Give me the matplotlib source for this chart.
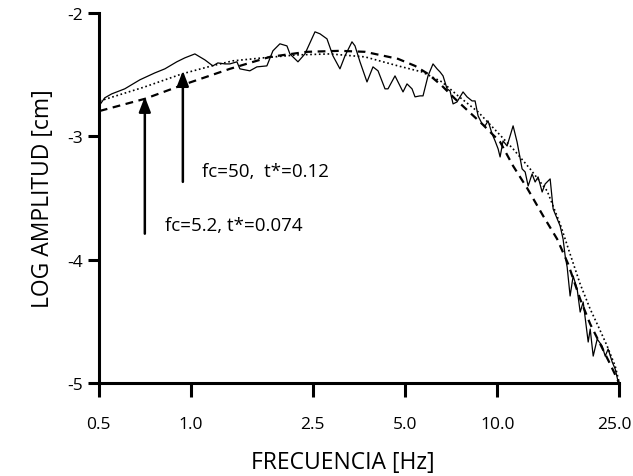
import numpy as np
import matplotlib
matplotlib.use("Agg")
import matplotlib.pyplot as plt
from matplotlib.transforms import ScaledTranslation
plt.rcParams["font.family"] = ["Open Sans", "DejaVu Sans"]
plt.rcParams["axes.unicode_minus"] = False

obs_f = [0.504, 0.523, 0.551, 0.608, 0.681, 0.762, 0.822, 0.899, 0.955, 1.030,
         1.110, 1.179, 1.224, 1.291, 1.340, 1.413, 1.445, 1.557, 1.642, 1.770,
         1.852, 1.952, 2.058, 2.105, 2.236, 2.356, 2.541, 2.638, 2.781, 2.909,
         3.066, 3.184, 3.356, 3.433, 3.564, 3.757, 3.930, 4.082, 4.302, 4.400,
         4.638, 4.744, 4.926, 5.076, 5.271, 5.391, 5.598, 5.725, 5.945, 6.172,
         6.361, 6.506, 6.655, 6.859, 7.016, 7.176, 7.394, 7.735, 7.971, 8.279,
         8.468, 8.661, 8.925, 9.129, 9.338, 9.623, 9.842, 10.07, 10.22, 10.45,
         10.77, 11.27, 11.61, 12.06, 12.34, 12.62, 13.00, 13.30, 13.60, 14.02,
         14.34, 14.89, 15.23, 16.05, 16.41, 16.67, 16.92, 17.30, 17.70, 18.24,
         18.66, 19.09, 19.82, 20.12, 20.58, 21.21, 22.02, 22.52, 23.03, 23.74,
         24.28, 24.84]
obs_a = [-2.746, -2.689, -2.657, -2.616, -2.543, -2.487, -2.454, -2.397, -2.365, -2.333,
         -2.381, -2.430, -2.406, -2.414, -2.414, -2.397, -2.454, -2.470, -2.438, -2.430,
         -2.308, -2.251, -2.268, -2.333, -2.397, -2.333, -2.154, -2.170, -2.211, -2.349,
         -2.454, -2.349, -2.235, -2.268, -2.397, -2.560, -2.438, -2.470, -2.616, -2.616,
         -2.511, -2.560, -2.641, -2.576, -2.616, -2.681, -2.673, -2.673, -2.511, -2.414,
         -2.454, -2.479, -2.511, -2.616, -2.633, -2.738, -2.722, -2.641, -2.681, -2.714,
         -2.714, -2.835, -2.900, -2.916, -2.876, -2.981, -3.038, -3.103, -3.168, -3.038,
         -3.079, -2.916, -3.046, -3.265, -3.290, -3.403, -3.306, -3.371, -3.330, -3.452,
         -3.387, -3.346, -3.590, -3.727, -3.833, -3.971, -4.060, -4.295, -4.133, -4.238,
         -4.425, -4.344, -4.668, -4.563, -4.782, -4.644, -4.701, -4.782, -4.725, -4.830,
         -4.887, -4.993]

# model fc=5.2, t*=0.074 (dashed)
m1_f = [0.504, 0.707, 0.941, 1.340, 1.810, 2.392, 3.066, 3.701, 4.744, 5.391,
        5.945, 6.605, 7.285, 8.034, 8.925, 10.22, 11.27, 12.52, 14.13, 15.69,
        17.05, 18.66, 20.12, 21.70, 23.38, 25.0]
m1_a = [-2.795, -2.697, -2.584, -2.454, -2.357, -2.316, -2.308, -2.316, -2.373, -2.430,
        -2.495, -2.592, -2.697, -2.795, -2.900, -3.046, -3.241, -3.420, -3.646, -3.833,
        -4.036, -4.320, -4.522, -4.685, -4.847, -5.0]

# model fc=50, t*=0.12 (dotted)
m2_f = [0.504, 0.707, 0.934, 1.170, 1.371, 1.718, 2.219, 2.844, 3.701, 4.744,
        5.683, 6.605, 7.451, 8.661, 9.99, 11.27, 12.81, 14.56, 16.05, 17.30,
        18.66, 20.12, 21.36, 22.86, 24.28, 25.0]
m2_a = [-2.714, -2.600, -2.495, -2.430, -2.389, -2.365, -2.341, -2.333, -2.357, -2.430,
        -2.479, -2.560, -2.673, -2.803, -2.965, -3.103, -3.265, -3.444, -3.711, -3.955,
        -4.198, -4.401, -4.539, -4.701, -4.863, -4.993]

xticks = [0.5, 1.0, 2.5, 5.0, 10.0, 25.0]
xticklabels = ["0.5", "1.0", "2.5", "5.0", "10.0", "25.0"]
yticks = [-5, -4, -3, -2]

fig, ax = plt.subplots(figsize=(6.33, 4.77), dpi=100)
fig.subplots_adjust(left=0.156, right=0.978, top=0.971, bottom=0.195)

ax.plot(obs_f, obs_a, color="black", lw=0.9, clip_on=False)
ax.plot(m1_f, m1_a, color="black", lw=1.6, ls=(0, (3.5, 2.5)), clip_on=False)
ax.plot(m2_f, m2_a, color="black", lw=1.2, ls=(0, (1, 1.6)), clip_on=False)

# arrows pointing at the two models
ax.annotate("", xy=(0.707, -2.68), xytext=(0.707, -3.79),
            arrowprops=dict(arrowstyle="-|>,head_length=0.9,head_width=0.35",
                            color="black", lw=1.8, shrinkA=0, shrinkB=0))
ax.annotate("", xy=(0.941, -2.47), xytext=(0.941, -3.37),
            arrowprops=dict(arrowstyle="-|>,head_length=0.9,head_width=0.35",
                            color="black", lw=1.8, shrinkA=0, shrinkB=0))
ax.text(1.085, -3.28, "fc=50,  t*=0.12", fontsize=13.5, va="center", ha="left")
ax.text(0.822, -3.72, "fc=5.2, t*=0.074", fontsize=13.5, va="center", ha="left")

ax.set_xscale("log")
ax.set_xlim(0.5, 25)
ax.set_ylim(-5, -2)
ax.set_xticks(xticks)
ax.set_xticklabels(xticklabels)
ax.xaxis.set_minor_locator(matplotlib.ticker.NullLocator())
ax.set_yticks(yticks)
ax.set_yticklabels([str(v) for v in yticks])

for s in ["top", "right"]:
    ax.spines[s].set_visible(False)
for s in ["left", "bottom"]:
    ax.spines[s].set_linewidth(2.2)
ax.tick_params(width=2.2, labelsize=12.5)
ax.tick_params(axis="x", length=10, pad=14)
ax.tick_params(axis="y", length=8, pad=3)

# last x label sits against the right edge
last = ax.get_xticklabels()[-1]
last.set_transform(last.get_transform() + ScaledTranslation(-5 / 100, 0, fig.dpi_scale_trans))

ax.set_xlabel("FRECUENCIA [Hz]", fontsize=16.5)
ax.xaxis.set_label_coords(0.469, -0.18)
ax.set_ylabel("LOG AMPLITUD [cm]", fontsize=16.5, labelpad=9)

plt.savefig("out.png", dpi=100)
